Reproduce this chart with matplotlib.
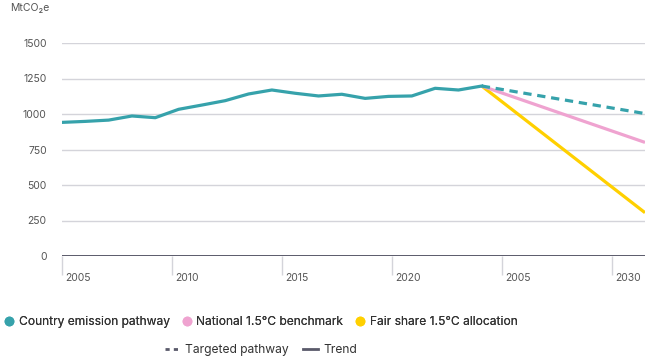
import numpy as np
import matplotlib
matplotlib.use("Agg")
import matplotlib.pyplot as plt
from matplotlib.lines import Line2D
from matplotlib.transforms import blended_transform_factory

plt.rcParams['font.family'] = ['Inter', 'DejaVu Sans']

# ---- data ----
years = list(range(2005, 2024))
emissions = [941, 948, 957, 986, 974, 1033, 1063, 1094, 1141, 1169,
             1146, 1127, 1139, 1110, 1124, 1127, 1181, 1169, 1197]
proj_years = [2023, 2030]
targeted = [1197, 1003]
benchmark = [1197, 800]
fair_share = [1197, 305]
y_ticks = [0, 250, 500, 750, 1000, 1250, 1500]
x_tick_labels = ["2005", "2010", "2015", "2020", "2005", "2030"]

TEAL = "#36A2AB"
PINK = "#EFA3D0"
YELLOW = "#FFD000"
DARK = "#5A5A6A"
GRID = "#D4D4DA"
TXT = "#555555"

W, H = 647, 359
fig = plt.figure(figsize=(W / 100, H / 100), dpi=100)
ax = fig.add_axes([62 / W, 1 - 256 / H, 583 / W, (256 - 43) / H])

ax.set_xlim(2005, 2030)
ax.set_ylim(0, 1500)

for v in y_ticks[1:]:
    ax.axhline(v, color=GRID, lw=1.0, zorder=1)
ax.axhline(0, color=DARK, lw=1.4, zorder=2)

ax.plot(proj_years, fair_share, color=YELLOW, lw=2.3, zorder=3, solid_capstyle='butt')
ax.plot(proj_years, benchmark, color=PINK, lw=2.3, zorder=3, solid_capstyle='butt')
ax.plot(proj_years, targeted, color=TEAL, lw=2.3, zorder=4, dashes=(2.6, 1.8))
ax.plot(years, emissions, color=TEAL, lw=2.3, zorder=5, solid_joinstyle='round')

for s in ax.spines.values():
    s.set_visible(False)

ax.set_yticks(y_ticks)
ax.set_yticklabels([str(v) for v in y_ticks])
ax.tick_params(axis='y', length=0, pad=11, labelsize=7.5, labelcolor=TXT)

xt = np.linspace(2005, 2005 + 5 * 110 / (583 / 25), 6)
ax.set_xticks(xt)
ax.set_xticklabels([""] * 6)
ax.tick_params(axis='x', length=14, width=1.0, color=GRID, direction='out', pad=0)
tr = blended_transform_factory(ax.transData, ax.transAxes)
for x, lab in zip(xt, x_tick_labels):
    ax.annotate(lab, xy=(x, 0), xycoords=tr, xytext=(3, -22), textcoords='offset pixels',
                ha='left', va='center', fontsize=7.5, color=TXT)

fig.text(10 / W, 1 - 8 / H, "MtCO₂e", fontsize=7.5, color=TXT, ha='left', va='center')

h1 = [Line2D([], [], marker='o', ls='none', color=c, markersize=6)
      for c in (TEAL, PINK, YELLOW)]
l1 = ["Country emission pathway", "National 1.5°C benchmark", "Fair share 1.5°C allocation"]
leg1 = fig.legend(h1, l1, loc='center', bbox_to_anchor=(261 / W, 1 - 322 / H), ncol=3,
                  frameon=False, fontsize=8.7, handlelength=0.8, handletextpad=0.4,
                  columnspacing=1.0, labelcolor="#333333")
fig.add_artist(leg1)
h2 = [Line2D([], [], color=DARK, lw=2, dashes=(1.5, 1.5)),
      Line2D([], [], color=DARK, lw=2)]
l2 = ["Targeted pathway", "Trend"]
fig.legend(h2, l2, loc='center', bbox_to_anchor=(261 / W, 1 - 350 / H), ncol=2,
           frameon=False, fontsize=8.7, handlelength=1.2, handletextpad=0.5,
           columnspacing=1.2, labelcolor="#333333")

fig.savefig("out.png", dpi=100)
